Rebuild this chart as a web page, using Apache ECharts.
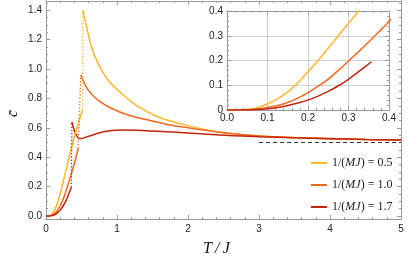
<!DOCTYPE html>
<html><head><meta charset="utf-8">
<script src="https://cdn.jsdelivr.net/npm/echarts@6/dist/echarts.min.js"></script>
<style>html,body{margin:0;padding:0;background:#fff}#c{width:407px;height:265px}</style>
</head><body><div id="c"></div>
<script>
// ---- data ----
const legendNames = ['0.5', '1.0', '1.7'];
const colors = ['#FDB72A', '#F3681F', '#C1260F'];

const yelLowX = [0, 0.025, 0.05, 0.075, 0.1, 0.125, 0.15, 0.175, 0.2, 0.225, 0.25, 0.275, 0.3, 0.325, 0.35, 0.375, 0.4, 0.425, 0.45, 0.475, 0.5, 0.515];
const yelLowY = [0, 0, 0.002, 0.009, 0.024, 0.045, 0.073, 0.11, 0.155, 0.2, 0.25, 0.3, 0.35, 0.4, 0.45, 0.495, 0.54, 0.58, 0.62, 0.66, 0.70, 0.72];
const yelUpX = [0.518, 0.571, 0.64, 0.734, 0.874, 1.06, 1.30, 1.6, 2.0, 2.48, 3.0, 3.5, 4.0, 4.5, 5.0];
const yelUpY = [1.40, 1.288, 1.152, 1.039, 0.925, 0.835, 0.744, 0.67, 0.615, 0.568, 0.545, 0.533, 0.526, 0.521, 0.518];
const yelJumpX = [0.515, 0.518];
const yelJumpY = [0.72, 1.40];

const orgLowX = [0, 0.025, 0.05, 0.075, 0.1, 0.125, 0.15, 0.175, 0.2, 0.225, 0.25, 0.275, 0.3, 0.325, 0.35, 0.375, 0.4, 0.425, 0.453];
const orgLowY = [0, 0, 0.001, 0.004, 0.01, 0.018, 0.03, 0.048, 0.07, 0.096, 0.125, 0.16, 0.198, 0.236, 0.275, 0.316, 0.357, 0.405, 0.46];
const orgUpX = [0.49, 0.594, 0.734, 0.92, 1.155, 1.39, 1.69, 2.0, 2.44, 3.0, 3.5, 4.0, 4.5, 5.0];
const orgUpY = [0.96, 0.857, 0.789, 0.733, 0.687, 0.658, 0.625, 0.6, 0.57, 0.545, 0.534, 0.527, 0.521, 0.518];
const orgJumpX = [0.453, 0.49];
const orgJumpY = [0.46, 0.96];

const redLowX = [0, 0.025, 0.05, 0.075, 0.1, 0.125, 0.15, 0.175, 0.2, 0.225, 0.25, 0.275, 0.3, 0.325, 0.357];
const redLowY = [0, 0, 0.001, 0.002, 0.005, 0.01, 0.018, 0.028, 0.04, 0.056, 0.075, 0.098, 0.124, 0.155, 0.195];
const redUpX = [0.365, 0.4, 0.44, 0.467, 0.5, 0.55, 0.65, 0.757, 0.9, 1.05, 1.3, 1.69, 2.0, 2.44, 3.0, 3.5, 4.0, 4.5, 5.0];
const redUpY = [0.64, 0.58, 0.54, 0.528, 0.527, 0.535, 0.55, 0.567, 0.58, 0.585, 0.583, 0.573, 0.565, 0.551, 0.54, 0.532, 0.526, 0.521, 0.518];
const redJumpX = [0.357, 0.365];
const redJumpY = [0.195, 0.64];

const limitX = [3, 5];
const limitY = [0.5, 0.5];

const mainXTicks = [0, 1, 2, 3, 4, 5];
const mainXMinor = [0.2,0.4,0.6,0.8,1.2,1.4,1.6,1.8,2.2,2.4,2.6,2.8,3.2,3.4,3.6,3.8,4.2,4.4,4.6,4.8];
const mainYTicks = [0, 0.2, 0.4, 0.6, 0.8, 1.0, 1.2, 1.4];
const mainYMinor = [0.05,0.1,0.15,0.25,0.3,0.35,0.45,0.5,0.55,0.65,0.7,0.75,0.85,0.9,0.95,1.05,1.1,1.15,1.25,1.3,1.35,1.45];
const insetTicks = [0, 0.1, 0.2, 0.3, 0.4];
const insetYLabels = ['0', '0.1', '0.2', '0.3', '0.4'];
const insetXLabels = ['0.0', '0.1', '0.2', '0.3', '0.4'];
const insetMinor = [0.02,0.04,0.06,0.08,0.12,0.14,0.16,0.18,0.22,0.24,0.26,0.28,0.32,0.34,0.36,0.38];

// ---- helpers ----
const zip = (xs, ys) => xs.map((x, i) => [x, ys[i]]);
const frameColor = '#9a9a9a';
const labelColor = '#222';
const sans = 'Liberation Sans';

function ax(opts) {
  return {
    type: 'value', gridIndex: opts.grid, min: opts.min, max: opts.max, position: opts.pos, z: 2,
    axisLine: { show: true, onZero: false, lineStyle: { color: frameColor, width: 1 } },
    axisTick: { show: true, inside: true, length: opts.len || 4, customValues: opts.ticks, lineStyle: { color: frameColor } },
    axisLabel: { show: !!opts.labels, customValues: opts.ticks, color: labelColor, fontFamily: sans, fontSize: 10, margin: opts.margin || 5,
      formatter: opts.labels || (v => '') },
    splitLine: { show: !!opts.split, lineStyle: { color: '#d0d0d0', width: 1 } }
  };
}

const xAxes = [
  ax({grid:0, min:0, max:5, pos:'bottom', ticks: mainXTicks, labels: v => String(Math.round(v)), margin:5}),
  ax({grid:0, min:0, max:5, pos:'top', ticks: mainXTicks}),
  ax({grid:0, min:0, max:5, pos:'bottom', ticks: mainXMinor, len:2}),
  ax({grid:0, min:0, max:5, pos:'top', ticks: mainXMinor, len:2}),
  ax({grid:1, min:0, max:0.4, pos:'bottom', ticks: insetTicks, labels: v => insetXLabels[Math.round(v*10)], margin:3}),
  ax({grid:1, min:0, max:0.4, pos:'top', ticks: insetTicks, split: true}),
  ax({grid:1, min:0, max:0.4, pos:'bottom', ticks: insetMinor, len:2}),
  ax({grid:1, min:0, max:0.4, pos:'top', ticks: insetMinor, len:2})
];
const yAxes = [
  ax({grid:0, min:-0.0204, max:1.463, pos:'left', ticks: mainYTicks, labels: v => v.toFixed(1), margin:4}),
  ax({grid:0, min:-0.0204, max:1.463, pos:'right', ticks: mainYTicks}),
  ax({grid:0, min:-0.0204, max:1.463, pos:'left', ticks: mainYMinor, len:2}),
  ax({grid:0, min:-0.0204, max:1.463, pos:'right', ticks: mainYMinor, len:2}),
  ax({grid:1, min:0, max:0.4, pos:'left', ticks: insetTicks, labels: v => insetYLabels[Math.round(v*10)], margin:4}),
  ax({grid:1, min:0, max:0.4, pos:'right', ticks: insetTicks, split: true}),
  ax({grid:1, min:0, max:0.4, pos:'left', ticks: insetMinor, len:2}),
  ax({grid:1, min:0, max:0.4, pos:'right', ticks: insetMinor, len:2})
];

function line(name, data, color, xi, yi, extra) {
  return Object.assign({
    type: 'line', name: name, data: data, xAxisIndex: xi, yAxisIndex: yi,
    showSymbol: false, symbol: 'none', smooth: 0.3, clip: true,
    lineStyle: { color: color, width: 1.5 }, itemStyle: { color: color },
    emphasis: { disabled: true }, silent: true, animation: false, z: 3
  }, extra || {});
}
const dotted = (c) => ({ smooth: false, lineStyle: { color: c, width: 1.3, type: [1.3, 2] } });

const series = [
  line(legendNames[0], zip(yelUpX, yelUpY), colors[0], 0, 0),
  line(legendNames[1], zip(orgUpX, orgUpY), colors[1], 0, 0),
  line(legendNames[2], zip(redUpX, redUpY), colors[2], 0, 0),
  line('y_low', zip(yelLowX, yelLowY), colors[0], 0, 0),
  line('o_low', zip(orgLowX, orgLowY), colors[1], 0, 0),
  line('r_low', zip(redLowX, redLowY), colors[2], 0, 0),
  line('y_jump', zip(yelJumpX, yelJumpY), colors[0], 0, 0, dotted(colors[0])),
  line('o_jump', zip(orgJumpX, orgJumpY), colors[1], 0, 0, dotted(colors[1])),
  line('r_jump', zip(redJumpX, redJumpY), colors[2], 0, 0, dotted(colors[2])),
  line('limit', zip(limitX, limitY), '#333', 0, 0, { smooth: false, lineStyle: { color: '#333', width: 1, type: [4, 3] } }),
  line('y_in', zip(yelLowX, yelLowY), colors[0], 5, 5),
  line('o_in', zip(orgLowX, orgLowY), colors[1], 5, 5),
  line('r_in', zip(redLowX, redLowY), colors[2], 5, 5)
];

const chart = echarts.init(document.getElementById('c'), null, { renderer: 'canvas' });
chart.setOption({
  animation: false,
  backgroundColor: '#fff',
  grid: [
    { left: 46, top: 1, right: 6, bottom: 46, containLabel: false },
    { left: 227, top: 11, width: 162, height: 99, show: true, backgroundColor: '#fff', borderWidth: 0, z: 0 }
  ],
  xAxis: xAxes,
  yAxis: yAxes,
  legend: {
    data: legendNames, orient: 'vertical', left: 306, top: 151, itemGap: 8,
    icon: 'rect', itemWidth: 16, itemHeight: 2, selectedMode: false,
    formatter: n => '{n|1/(}{i|MJ}{n|) = ' + n + '}',
    textStyle: { lineHeight: 14, rich: {
      n: { fontFamily: 'Liberation Serif', fontSize: 12, color: '#222' },
      i: { fontFamily: 'Liberation Serif', fontSize: 12, fontStyle: 'italic', color: '#222' }
    } }
  },
  graphic: [
    { type: 'text', left: 203, top: 241, style: { text: 'T\u2009/\u2009J', font: 'italic 16px "Liberation Serif"', fill: '#111' } },
    { type: 'text', x: 6, y: 117, rotation: Math.PI / 2, style: { text: 'c\u0304', font: 'italic 15px "Liberation Serif"', fill: '#111' } }
  ],
  series: series
});
</script></body></html>
